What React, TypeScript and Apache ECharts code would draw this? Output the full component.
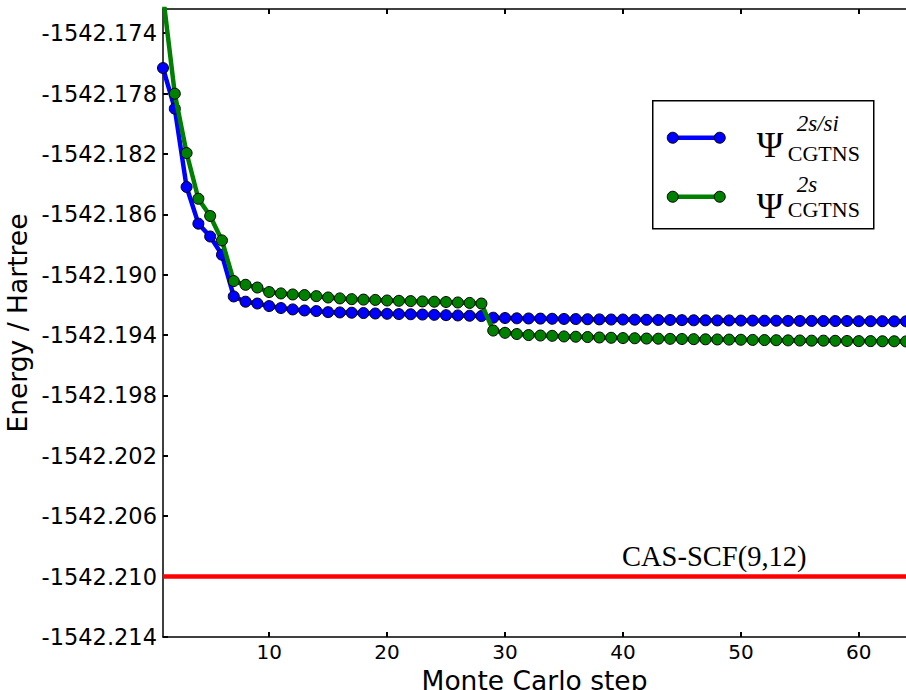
import React, { useEffect, useRef } from "react";
import * as echarts from "echarts";

const steps: number[] = Array.from({ length: 64 }, (_, i) => i + 1);

const blueValues: number[] = [
  -1542.17631, -1542.179, -1542.18419, -1542.18662, -1542.18747, -1542.18868, -1542.19144, -1542.19179,
  -1542.19191, -1542.19208, -1542.19221, -1542.1923, -1542.19237, -1542.19241, -1542.19248, -1542.1925,
  -1542.19252, -1542.19254, -1542.19257, -1542.19259, -1542.19261, -1542.19262, -1542.19264, -1542.19266,
  -1542.19268, -1542.1927, -1542.19272, -1542.19274, -1542.19285, -1542.19287, -1542.19289, -1542.1929,
  -1542.19291, -1542.19292, -1542.19293, -1542.19294, -1542.19295, -1542.19296, -1542.19297, -1542.19297,
  -1542.19298, -1542.19299, -1542.193, -1542.193, -1542.19301, -1542.19302, -1542.19302, -1542.19303,
  -1542.19303, -1542.19304, -1542.19304, -1542.19305, -1542.19305, -1542.19306, -1542.19306, -1542.19306,
  -1542.19307, -1542.19307, -1542.19307, -1542.19308, -1542.19308, -1542.19308, -1542.19309, -1542.19309,
];

const greenValues: number[] = [
  -1542.1715, -1542.17801, -1542.18194, -1542.18497, -1542.18611, -1542.18773, -1542.19042, -1542.19067,
  -1542.19085, -1542.19115, -1542.19124, -1542.19131, -1542.19135, -1542.19142, -1542.19151, -1542.19157,
  -1542.19162, -1542.19165, -1542.19167, -1542.19171, -1542.19173, -1542.19175, -1542.19177, -1542.19179,
  -1542.19181, -1542.19184, -1542.19187, -1542.19191, -1542.1937, -1542.19385, -1542.19393, -1542.194,
  -1542.19403, -1542.19405, -1542.19409, -1542.19411, -1542.19413, -1542.19416, -1542.19418, -1542.1942,
  -1542.19421, -1542.19423, -1542.19424, -1542.19425, -1542.19426, -1542.19427, -1542.19428, -1542.19429,
  -1542.1943, -1542.19431, -1542.19432, -1542.19433, -1542.19434, -1542.19435, -1542.19436, -1542.19437,
  -1542.19437, -1542.19438, -1542.19439, -1542.1944, -1542.1944, -1542.19441, -1542.19441, -1542.19442,
];

const casScfValue = -1542.21;
const casScfLabel = "CAS-SCF(9,12)";

const xTicks: number[] = [10, 20, 30, 40, 50, 60];
const yTicks: number[] = [
  -1542.214, -1542.21, -1542.206, -1542.202, -1542.198, -1542.194, -1542.19, -1542.186, -1542.182,
  -1542.178, -1542.174,
];

const xTitle = "Monte Carlo step";
const yTitle = "Energy / Hartree";

const SANS = "DejaVu Sans";
const SERIF = "Liberation Serif";

export default function App() {
  const ref = useRef<HTMLDivElement>(null);

  useEffect(() => {
    if (!ref.current) return;
    const chart = echarts.init(ref.current, undefined, { renderer: "svg" });

    const axisLineStyle = { color: "#000", width: 1.5 };
    const tickStyle = { color: "#000", width: 2 };

    const mkX = (position: "bottom" | "top", showLabel: boolean) => ({
      type: "value",
      position,
      min: 1,
      max: 64,
      axisLine: { show: true, onZero: false, lineStyle: axisLineStyle },
      axisTick: { show: true, inside: true, length: 5, lineStyle: tickStyle, customValues: xTicks },
      axisLabel: {
        show: showLabel,
        customValues: xTicks,
        color: "#000",
        fontFamily: SANS,
        fontSize: 20,
        margin: 5,
      },
      splitLine: { show: false },
      name: showLabel ? xTitle : "",
      nameLocation: "middle",
      nameGap: 28,
      nameTextStyle: { color: "#000", fontFamily: SANS, fontSize: 26.5 },
    });

    const option: any = {
      animation: false,
      backgroundColor: "#fff",
      grid: { left: 163, top: 9, width: 743, height: 628, containLabel: false, outerBoundsMode: "none" },
      xAxis: [mkX("bottom", true), mkX("top", false)],
      yAxis: [
        {
          type: "value",
          position: "left",
          min: -1542.214,
          max: -1542.1724,
          axisLine: { show: true, onZero: false, lineStyle: axisLineStyle },
          axisTick: { show: true, inside: true, length: 5, lineStyle: tickStyle, customValues: yTicks },
          axisLabel: {
            customValues: yTicks,
            color: "#000",
            fontFamily: SANS,
            fontSize: 22.5,
            margin: 6,
            formatter: (v: number) => v.toFixed(3),
          },
          splitLine: { show: false },
          name: yTitle,
          nameLocation: "middle",
          nameGap: 125,
          nameRotate: 90,
          nameTextStyle: { color: "#000", fontFamily: SANS, fontSize: 26.5 },
        },
      ],
      series: [
        {
          type: "line",
          data: steps.map((s, i) => [s, blueValues[i]]),
          lineStyle: { color: "#0000ff", width: 4.5 },
          itemStyle: { color: "#0000ff", borderColor: "#000", borderWidth: 1 },
          symbol: "circle",
          symbolSize: 11,
          showSymbol: true,
          clip: true,
          z: 2,
        },
        {
          type: "line",
          data: steps.map((s, i) => [s, greenValues[i]]),
          lineStyle: { color: "#008000", width: 4.5 },
          itemStyle: { color: "#008000", borderColor: "#000", borderWidth: 1 },
          symbol: "circle",
          symbolSize: 11,
          showSymbol: true,
          clip: true,
          z: 3,
        },
        {
          type: "line",
          data: [
            [1, casScfValue],
            [64, casScfValue],
          ],
          lineStyle: { color: "#ff0000", width: 4.5 },
          symbol: "none",
          clip: true,
          z: 4,
        },
      ],
      graphic: [
        {
          type: "text",
          left: 622,
          top: 542,
          style: { text: casScfLabel, font: `28.5px "${SERIF}"`, fill: "#000" },
        },
        {
          type: "group",
          left: 652,
          top: 100,
          children: [
            {
              type: "rect",
              shape: { x: 0, y: 0, width: 221, height: 128 },
              style: { fill: "#fff", stroke: "#000", lineWidth: 1.5 },
            },
            { type: "line", shape: { x1: 20, y1: 37, x2: 67, y2: 37 }, style: { stroke: "#0000ff", lineWidth: 4.5 } },
            { type: "circle", shape: { cx: 20, cy: 37, r: 5.5 }, style: { fill: "#0000ff", stroke: "#000", lineWidth: 1 } },
            { type: "circle", shape: { cx: 67, cy: 37, r: 5.5 }, style: { fill: "#0000ff", stroke: "#000", lineWidth: 1 } },
            { type: "line", shape: { x1: 20, y1: 96, x2: 67, y2: 96 }, style: { stroke: "#008000", lineWidth: 4.5 } },
            { type: "circle", shape: { cx: 20, cy: 96, r: 5.5 }, style: { fill: "#008000", stroke: "#000", lineWidth: 1 } },
            { type: "circle", shape: { cx: 67, cy: 96, r: 5.5 }, style: { fill: "#008000", stroke: "#000", lineWidth: 1 } },
            { type: "text", x: 104, y: 44, style: { text: "Ψ", font: `36px "${SERIF}"`, fill: "#000", verticalAlign: "middle" } },
            { type: "text", x: 144, y: 23, style: { text: "2s/si", font: `italic 23px "${SERIF}"`, fill: "#000", verticalAlign: "middle" } },
            { type: "text", x: 135, y: 53, style: { text: "CGTNS", font: `22px "${SERIF}"`, fill: "#000", verticalAlign: "middle" } },
            { type: "text", x: 104, y: 105, style: { text: "Ψ", font: `36px "${SERIF}"`, fill: "#000", verticalAlign: "middle" } },
            { type: "text", x: 144, y: 84, style: { text: "2s", font: `italic 23px "${SERIF}"`, fill: "#000", verticalAlign: "middle" } },
            { type: "text", x: 135, y: 109, style: { text: "CGTNS", font: `22px "${SERIF}"`, fill: "#000", verticalAlign: "middle" } },
          ],
        },
      ],
    };

    chart.setOption(option);
    return () => chart.dispose();
  }, []);

  return (
    <div
      ref={ref}
      style={{ position: "fixed", left: 0, top: 0, width: 906, height: 690, background: "#fff" }}
    />
  );
}
